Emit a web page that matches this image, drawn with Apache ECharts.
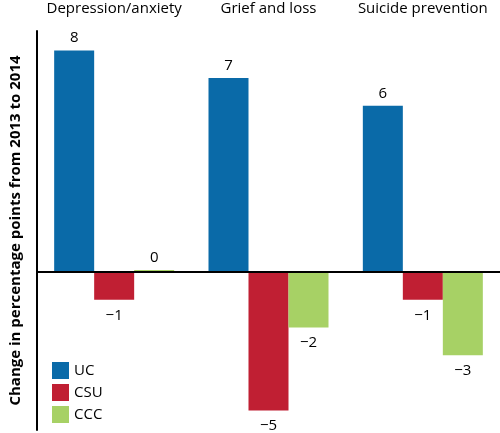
<!DOCTYPE html>
<html><head><meta charset="utf-8">
<script src="https://cdn.jsdelivr.net/npm/echarts@6/dist/echarts.min.js"></script>
<style>html,body{margin:0;padding:0;background:#fff}#c{width:500px;height:433px}</style>
</head><body><div id="c"></div>
<script>
var categories = ["Depression/anxiety", "Grief and loss", "Suicide prevention"];
var ucValues = [8, 7, 6];
var csuValues = [-1, -5, -1];
var cccValues = [0, -2, -3];
var seriesNames = ["UC", "CSU", "CCC"];
var yTitle = "Change in percentage points from 2013 to 2014";

var font = "'Open Sans', 'Noto Sans', sans-serif";
function fmt(p){ var v = p.value; return v < 0 ? "\u2212" + Math.abs(v) : String(v); }
function mk(name, data, color, extra){
  var s = {
    name: name, type: "bar", barWidth: 40,
    itemStyle: { color: color },
    label: { show: true, position: "top", distance: 6, fontFamily: font, fontSize: 15, color: "#000", formatter: fmt }
  };
  s.data = data.map(function(v){
    return { value: v, label: { position: v < 0 ? "bottom" : "top", distance: v < 0 ? 8 : 5 } };
  });
  for (var k in extra) s[k] = extra[k];
  return s;
}
var chart = echarts.init(document.getElementById("c"), null, {renderer: "canvas"});
chart.setOption({
  animation: false,
  grid: { left: 32, top: 31, width: 468, height: 399, containLabel: false },
  legend: {
    orient: "vertical", left: 47, top: 357, itemWidth: 17, itemHeight: 17, itemGap: 5,
    icon: "rect", data: seriesNames,
    textStyle: { fontFamily: font, fontSize: 15, color: "#000", padding: [0,0,0,0] }
  },
  xAxis: {
    type: "category", data: categories, position: "top",
    axisLine: { show: false }, axisTick: { show: false },
    axisLabel: { fontFamily: font, fontSize: 15, color: "#000", margin: 15, interval: 0 }
  },
  yAxis: {
    type: "value", min: -5.7, max: 8.7,
    axisLine: { show: true, lineStyle: { color: "#000", width: 2 } },
    axisTick: { show: false }, axisLabel: { show: false }, splitLine: { show: false },
    name: yTitle, nameLocation: "middle", nameGap: 14, nameRotate: 90,
    nameTextStyle: { fontFamily: font, fontSize: 15, fontWeight: "bold", color: "#000" }
  },
  series: [
    mk("UC", ucValues, "#0a6aa8", { barGap: "0%", barCategoryGap: "23%",
      markLine: { silent: true, symbol: "none", label: { show: false },
        lineStyle: { color: "#000", width: 2, type: "solid" }, data: [{ yAxis: 0 }] } }),
    mk("CSU", csuValues, "#c01f33", {}),
    mk("CCC", cccValues, "#a7d165", { barMinHeight: 2 })
  ]
});
</script></body></html>
